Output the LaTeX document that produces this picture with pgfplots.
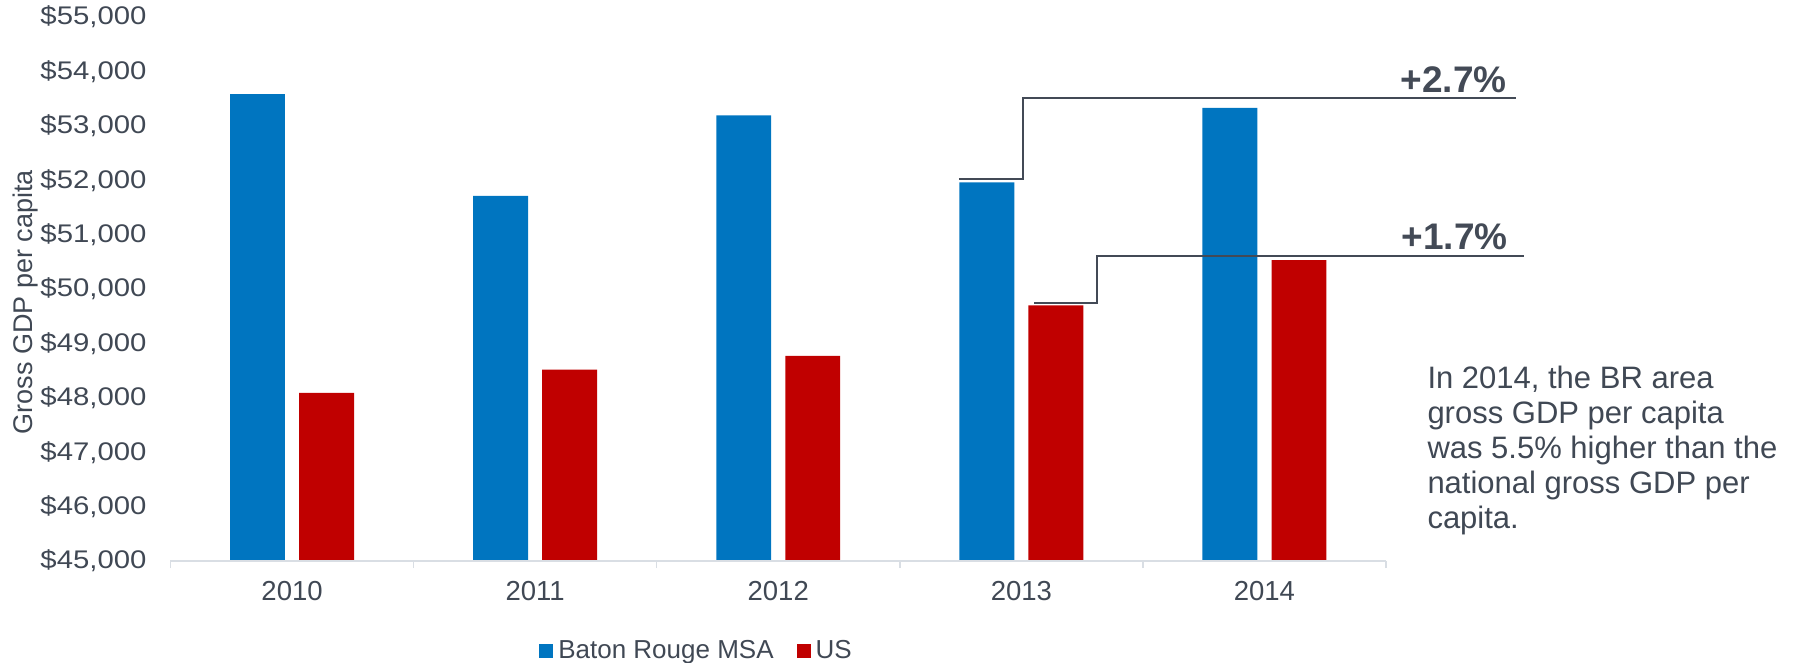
\documentclass[border=0pt]{standalone}
\usepackage{fontspec}
\setmainfont{Liberation Sans}
\usepackage{graphicx}
\usepackage{pgfplots}
\pgfplotsset{compat=1.18}

\definecolor{brblue}{RGB}{0,117,192}
\definecolor{usred}{RGB}{192,0,0}
\definecolor{txt}{RGB}{64,72,84}
\definecolor{ann}{RGB}{67,74,86}
\definecolor{axisgray}{RGB}{217,222,228}

% shared frame for the bar axis and the overlay with the growth steps
\pgfplotsset{
  gdpframe/.style={
    scale only axis, width=486.2pt, height=217.6pt,
    at={(68.2pt,40.8pt)}, anchor=south west,
    xmin=-0.5, xmax=4.5, ymin=45000, ymax=55000,
    scaled y ticks=false, scaled x ticks=false,
  }
}
\newcommand{\usd}[1]{\scalebox{1.15}[1]{\$#1}}

\begin{document}
\begin{tikzpicture}
\path[use as bounding box] (0,0) rectangle (721.2pt,265.2pt);

\begin{axis}[gdpframe,
  ybar, bar width=0.226,
  axis line style={draw=none},
  xtick pos=bottom, ytick pos=left,
  xtick={0,1,2,3,4},
  xticklabels={2010,2011,2012,2013,2014},
  minor xtick={-0.5,0.5,1.5,2.5,3.5,4.5},
  ytick={45000,46000,47000,48000,49000,50000,51000,52000,53000,54000,55000},
  yticklabels={{\usd{45,000}},{\usd{46,000}},{\usd{47,000}},{\usd{48,000}},{\usd{49,000}},{\usd{50,000}},{\usd{51,000}},{\usd{52,000}},{\usd{53,000}},{\usd{54,000}},{\usd{55,000}}},
  major tick length=0pt, minor tick length=2.8pt, tick align=outside,
  minor x tick style={draw=axisgray, line width=0.6pt},
  major tick style={draw=none},
  xticklabel style={font=\fontsize{11}{13}\selectfont, text=txt, inner sep=0pt, anchor=north, yshift=-7.8pt},
  yticklabel style={font=\fontsize{10.2}{12}\selectfont, text=txt, inner sep=0pt, anchor=east, xshift=-9.4pt},
  ylabel={Gross GDP per capita},
  ylabel style={font=\fontsize{10.8}{13}\selectfont, text=txt, inner sep=0pt,
    at={(axis description cs:-0.1193,0.476)}, anchor=center},
  legend columns=2,
  legend cell align=left,
  legend style={draw=none, fill=none, inner sep=0pt,
    at={(axis description cs:0.303,-0.1654)}, anchor=west,
    font=\fontsize{10.4}{12}\selectfont, text=txt,
    nodes={inner sep=0pt},
    /tikz/every odd column/.append style={column sep=2pt},
    /tikz/every even column/.append style={column sep=9.2pt}},
  after end axis/.code={
    \draw[axisgray, line width=0.6pt] (rel axis cs:0,0) -- (rel axis cs:1,0);
  },
]
\addplot[fill=brblue, draw=none, bar shift=-0.142,
  legend image code/.code={\fill[brblue] (0pt,-2.8pt) rectangle (5.6pt,2.8pt);}]
  coordinates {(0,53580) (1,51710) (2,53190) (3,51960) (4,53330)};
\addlegendentry{Baton Rouge MSA}
\addplot[fill=usred, draw=none, bar shift=0.142,
  legend image code/.code={\fill[usred] (0pt,-2.8pt) rectangle (5.6pt,2.8pt);}]
  coordinates {(0,48090) (1,48520) (2,48770) (3,49700) (4,50530)};
\addlegendentry{US}
\end{axis}

% growth steps from 2013 to 2014, drawn past the right edge of the plot
\begin{axis}[gdpframe, hide axis, clip=false]
\addplot[const plot, line width=0.9pt, color=ann]
  coordinates {(2.743,52022) (3.007,53506) (5.035,53506)};
\addplot[const plot, line width=0.9pt, color=ann]
  coordinates {(3.052,49743) (3.311,50607) (5.067,50607)};
\node[anchor=base east, inner sep=0pt, text=ann,
  font=\bfseries\fontsize{14.8}{16}\selectfont] at (axis cs:4.998,53621) {+2.7\%};
\node[anchor=base east, inner sep=0pt, text=ann,
  font=\bfseries\fontsize{14.8}{16}\selectfont] at (axis cs:5.002,50726) {+1.7\%};
\end{axis}

\begin{scope}[every node/.style={anchor=base west, inner sep=0pt, text=txt,
    font=\fontsize{12.4}{14}\selectfont}]
\node at (570.8pt,109.6pt) {In 2014, the BR area};
\node at (570.8pt,95.6pt) {gross GDP per capita};
\node at (570.8pt,81.6pt) {was 5.5\% higher than the};
\node at (570.8pt,67.6pt) {national gross GDP per};
\node at (570.8pt,53.6pt) {capita.};
\end{scope}
\end{tikzpicture}
\end{document}
